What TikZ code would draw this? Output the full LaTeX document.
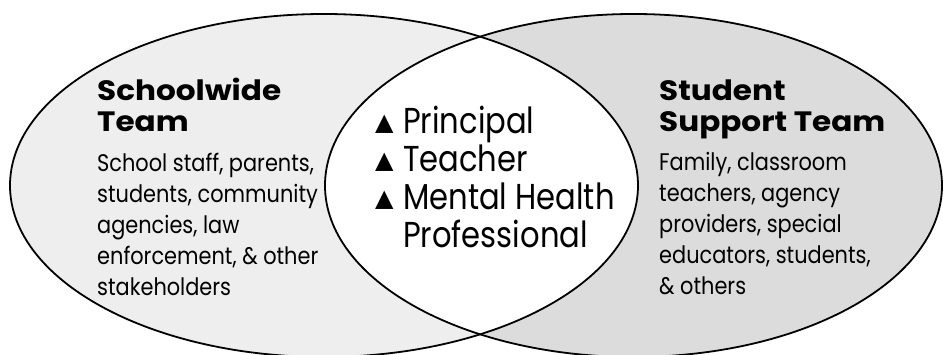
\documentclass[tikz,border=0pt]{standalone}
\usepackage{fontspec}
\setmainfont{Poppins}
\newfontfamily\bodyfont[FakeStretch=0.87]{Poppins}
\newfontfamily\midfont[FakeStretch=0.85]{Poppins}
\newfontfamily\titlefont[FakeStretch=1.11]{Poppins}
\newfontfamily\symfont{DejaVu Sans}
\definecolor{leftfill}{HTML}{EEEEEE}
\definecolor{rightfill}{HTML}{DCDCDC}
\tikzset{
  outline/.style={draw=black, line width=1.8pt},
  titletext/.style={anchor=base west, inner sep=0pt, align=left,
    font=\titlefont\bfseries\fontsize{28}{31}\selectfont},
  bodytext/.style={anchor=base west, inner sep=0pt, align=left,
    font=\bodyfont\fontsize{24}{31}\selectfont},
  midtext/.style={anchor=base west, inner sep=0pt, align=left,
    font=\midfont\fontsize{36}{38.3}\selectfont},
}
\newcommand{\tri}{\makebox[28pt][l]{\raisebox{3pt}{\symfont\fontsize{24}{24}\selectfont ▲}}}
\begin{document}
\begin{tikzpicture}[x=1pt,y=1pt]
\useasboundingbox (0,0) rectangle (943,355);
\coordinate (lc) at (324,169.5);
\coordinate (rc) at (633.5,169.5);
\fill[leftfill] (lc) ellipse [x radius=314, y radius=171.5];
\fill[rightfill] (rc) ellipse [x radius=308.5, y radius=171.5];
\begin{scope}
  \clip (lc) ellipse [x radius=314, y radius=171.5];
  \fill[white] (rc) ellipse [x radius=308.5, y radius=171.5];
\end{scope}
\draw[outline] (lc) ellipse [x radius=314, y radius=171.5];
\draw[outline] (rc) ellipse [x radius=308.5, y radius=171.5];

\node[titletext] (lt) at (97,223) {Schoolwide\\Team};
\node[bodytext] (lb) at (97,59) {School staff, parents,\\students, community\\agencies, law\\enforcement, \& other\\stakeholders};
\node[midtext] (mid) at (375,107) {\tri Principal\\\tri Teacher\\\tri Mental Health\\\hspace*{28pt}Professional};
\node[titletext] (rt) at (659,223) {Student\\Support Team};
\node[bodytext] (rb) at (659,60) {Family, classroom\\teachers, agency\\providers, special\\educators, students,\\\& others};
\end{tikzpicture}
\end{document}
